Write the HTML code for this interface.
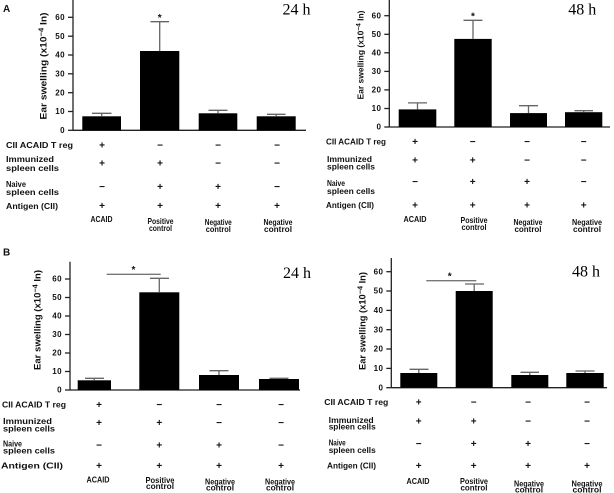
<!DOCTYPE html>
<html><head><meta charset="utf-8"><style>
html,body{margin:0;padding:0;background:#fff;}
svg{display:block;}
.t{font-family:"Liberation Sans",Arial,sans-serif;font-weight:bold;fill:#111;}
.tk{font-family:"Liberation Sans",Arial,sans-serif;font-weight:bold;font-size:8px;letter-spacing:0.4px;fill:#111;text-anchor:end;}
.s{font-family:"Liberation Sans",Arial,sans-serif;font-weight:bold;font-size:10px;fill:#111;text-anchor:middle;}
.b{font-family:"Liberation Sans",Arial,sans-serif;font-weight:bold;font-size:8.2px;fill:#111;text-anchor:middle;}
.h{font-family:"Liberation Serif","Times New Roman",serif;font-size:16px;fill:#000;}
.ax{stroke:#222;stroke-width:1.3;fill:none;}
.eb{stroke:#666;stroke-width:1.3;fill:none;}
</style></head><body>
<svg width="614" height="493" viewBox="0 0 614 493" xmlns="http://www.w3.org/2000/svg">
<!-- Panel letters -->
<text class="t" x="3" y="12" font-size="10">A</text>
<text class="t" x="3" y="255.5" font-size="10">B</text>

<!-- ===== A left ===== -->
<text class="h" x="282.5" y="14.5">24 h</text>
<text class="t" font-size="9.5" text-anchor="middle" textLength="107" lengthAdjust="spacingAndGlyphs" transform="translate(46.5,66) rotate(-90)">Ear swelling (x10<tspan font-size="7" dy="-3">−4</tspan><tspan dy="3"> In)</tspan></text>
<line class="ax" x1="73" y1="0" x2="73" y2="130.3"/>
<line class="ax" x1="73" y1="130.3" x2="306" y2="130.3"/>
<g class="ax">
<line x1="68" y1="130.3" x2="73" y2="130.3"/><line x1="68" y1="111.5" x2="73" y2="111.5"/><line x1="68" y1="92.7" x2="73" y2="92.7"/><line x1="68" y1="73.8" x2="73" y2="73.8"/><line x1="68" y1="55" x2="73" y2="55"/><line x1="68" y1="36.2" x2="73" y2="36.2"/><line x1="68" y1="17.3" x2="73" y2="17.3"/>
</g>
<text class="tk" x="65" y="133">0</text><text class="tk" x="65" y="114.2">10</text><text class="tk" x="65" y="95.4">20</text><text class="tk" x="65" y="76.5">30</text><text class="tk" x="65" y="57.7">40</text><text class="tk" x="65" y="38.9">50</text><text class="tk" x="65" y="20">60</text>
<rect x="82.3" y="116.3" width="38.7" height="14" fill="#000"/>
<rect x="140" y="51" width="39.3" height="79.3" fill="#000"/>
<rect x="198.7" y="113.3" width="38.6" height="17" fill="#000"/>
<rect x="256.7" y="116.3" width="39" height="14" fill="#000"/>
<path class="eb" d="M101.7 116.3V113.3M92 113.3H111.5 M159.7 51V21.7M150.5 21.7H169 M218 113.3V110.3M208.5 110.3H227.5 M276.2 116.3V114.3M267 114.3H285.5"/>
<text class="s" x="159.7" y="21">*</text>
<!-- table A left -->
<text class="t" font-size="8.5" x="6" y="148" textLength="67" lengthAdjust="spacingAndGlyphs">CII ACAID T reg</text>
<text class="t" font-size="8.5" x="6" y="162" textLength="48" lengthAdjust="spacingAndGlyphs">Immunized</text>
<text class="t" font-size="8.5" x="6" y="171" textLength="53" lengthAdjust="spacingAndGlyphs">spleen cells</text>
<text class="t" font-size="8.5" x="6" y="187" textLength="20" lengthAdjust="spacingAndGlyphs">Naive</text>
<text class="t" font-size="8.5" x="6" y="195" textLength="53" lengthAdjust="spacingAndGlyphs">spleen cells</text>
<text class="t" font-size="8.5" x="6" y="209" textLength="52" lengthAdjust="spacingAndGlyphs">Antigen (CII)</text>
<g>
<text class="s" x="102" y="148.5">+</text><text class="s" x="160" y="148.5">−</text><text class="s" x="218" y="148.5">−</text><text class="s" x="277" y="148.5">−</text>
<text class="s" x="102" y="166.5">+</text><text class="s" x="160" y="166.5">+</text><text class="s" x="218" y="166.5">−</text><text class="s" x="277" y="166.5">−</text>
<text class="s" x="102" y="190">−</text><text class="s" x="160" y="190">+</text><text class="s" x="218" y="190">+</text><text class="s" x="277" y="190">−</text>
<text class="s" x="102" y="209">+</text><text class="s" x="160" y="209">+</text><text class="s" x="218" y="209">+</text><text class="s" x="277" y="209">+</text>
</g>
<text class="b" x="101.5" y="222" textLength="22" lengthAdjust="spacingAndGlyphs">ACAID</text>
<text class="b" x="160.5" y="224" textLength="26" lengthAdjust="spacingAndGlyphs">Positive</text>
<text class="b" x="160.5" y="231" textLength="23" lengthAdjust="spacingAndGlyphs">control</text>
<text class="b" x="218.3" y="225" textLength="27" lengthAdjust="spacingAndGlyphs">Negative</text>
<text class="b" x="218.3" y="232" textLength="25" lengthAdjust="spacingAndGlyphs">control</text>
<text class="b" x="278" y="225" textLength="29" lengthAdjust="spacingAndGlyphs">Negative</text>
<text class="b" x="278" y="232" textLength="28" lengthAdjust="spacingAndGlyphs">control</text>

<!-- ===== A right ===== -->
<text class="h" x="568.3" y="14.7">48 h</text>
<text class="t" font-size="8.5" text-anchor="middle" textLength="89" lengthAdjust="spacingAndGlyphs" transform="translate(363.7,55) rotate(-90)">Ear swelling (x10<tspan font-size="6.5" dy="-3">−4</tspan><tspan dy="3"> In)</tspan></text>
<line class="ax" x1="389.3" y1="0" x2="389.3" y2="127"/>
<line class="ax" x1="389.3" y1="127" x2="610" y2="127"/>
<g class="ax">
<line x1="384.3" y1="127" x2="389.3" y2="127"/><line x1="384.3" y1="108.5" x2="389.3" y2="108.5"/><line x1="384.3" y1="89.9" x2="389.3" y2="89.9"/><line x1="384.3" y1="71.4" x2="389.3" y2="71.4"/><line x1="384.3" y1="52.8" x2="389.3" y2="52.8"/><line x1="384.3" y1="34.3" x2="389.3" y2="34.3"/><line x1="384.3" y1="15.7" x2="389.3" y2="15.7"/>
</g>
<text class="tk" x="381.3" y="129.7">0</text><text class="tk" x="381.3" y="111.2">10</text><text class="tk" x="381.3" y="92.6">20</text><text class="tk" x="381.3" y="74.1">30</text><text class="tk" x="381.3" y="55.5">40</text><text class="tk" x="381.3" y="37">50</text><text class="tk" x="381.3" y="18.4">60</text>
<rect x="398.7" y="109.4" width="37.6" height="17.6" fill="#000"/>
<rect x="454.3" y="38.9" width="37.4" height="88.1" fill="#000"/>
<rect x="510" y="113.1" width="37" height="13.9" fill="#000"/>
<rect x="565" y="112.2" width="37.3" height="14.8" fill="#000"/>
<path class="eb" d="M417.5 109.4V102.9M408 102.9H427 M473 38.9V20.3M463.5 20.3H482.5 M528.5 113.1V105.7M519 105.7H538 M583.7 112.2V110.7M574.5 110.7H593"/>
<text class="s" x="473" y="19.5">*</text>
<!-- table A right -->
<text class="t" font-size="8.5" x="326" y="144.7" textLength="60" lengthAdjust="spacingAndGlyphs">CII ACAID T reg</text>
<text class="t" font-size="8.5" x="327" y="162" textLength="45" lengthAdjust="spacingAndGlyphs">Immunized</text>
<text class="t" font-size="8.5" x="327" y="169.7" textLength="48" lengthAdjust="spacingAndGlyphs">spleen cells</text>
<text class="t" font-size="8.5" x="327" y="186" textLength="18" lengthAdjust="spacingAndGlyphs">Naive</text>
<text class="t" font-size="8.5" x="327" y="194" textLength="48" lengthAdjust="spacingAndGlyphs">spleen cells</text>
<text class="t" font-size="8.5" x="326" y="208" textLength="48" lengthAdjust="spacingAndGlyphs">Antigen (CII)</text>
<g>
<text class="s" x="415" y="145.2">+</text><text class="s" x="472.7" y="145.2">−</text><text class="s" x="527" y="145.2">−</text><text class="s" x="583.7" y="145.2">−</text>
<text class="s" x="415" y="163.5">+</text><text class="s" x="472.7" y="163.5">+</text><text class="s" x="527" y="163.5">−</text><text class="s" x="583.7" y="163.5">−</text>
<text class="s" x="415" y="185.2">−</text><text class="s" x="472.7" y="185.2">+</text><text class="s" x="527" y="185.2">+</text><text class="s" x="583.7" y="185.2">−</text>
<text class="s" x="415" y="208.5">+</text><text class="s" x="472.7" y="208.5">+</text><text class="s" x="527" y="208.5">+</text><text class="s" x="583.7" y="208.5">+</text>
</g>
<text class="b" x="415" y="222" textLength="23" lengthAdjust="spacingAndGlyphs">ACAID</text>
<text class="b" x="474" y="223" textLength="27" lengthAdjust="spacingAndGlyphs">Positive</text>
<text class="b" x="474" y="230" textLength="25" lengthAdjust="spacingAndGlyphs">control</text>
<text class="b" x="528" y="225" textLength="29" lengthAdjust="spacingAndGlyphs">Negative</text>
<text class="b" x="528" y="232" textLength="27" lengthAdjust="spacingAndGlyphs">control</text>
<text class="b" x="587" y="225" textLength="30" lengthAdjust="spacingAndGlyphs">Negative</text>
<text class="b" x="587" y="232" textLength="28" lengthAdjust="spacingAndGlyphs">control</text>

<!-- ===== B left ===== -->
<text class="h" x="283" y="278">24 h</text>
<text class="t" font-size="9.2" text-anchor="middle" textLength="100" lengthAdjust="spacingAndGlyphs" transform="translate(40.5,320) rotate(-90)">Ear swelling (x10<tspan font-size="7" dy="-3">−4</tspan><tspan dy="3"> In)</tspan></text>
<line class="ax" x1="70" y1="261.7" x2="70" y2="390"/>
<line class="ax" x1="70" y1="390" x2="300" y2="390"/>
<g class="ax">
<line x1="65" y1="390" x2="70" y2="390"/><line x1="65" y1="371.5" x2="70" y2="371.5"/><line x1="65" y1="353" x2="70" y2="353"/><line x1="65" y1="334.5" x2="70" y2="334.5"/><line x1="65" y1="316" x2="70" y2="316"/><line x1="65" y1="297.5" x2="70" y2="297.5"/><line x1="65" y1="279" x2="70" y2="279"/>
</g>
<text class="tk" x="62" y="392.7">0</text><text class="tk" x="62" y="374.2">10</text><text class="tk" x="62" y="355.7">20</text><text class="tk" x="62" y="337.2">30</text><text class="tk" x="62" y="318.7">40</text><text class="tk" x="62" y="300.2">50</text><text class="tk" x="62" y="281.7">60</text>
<rect x="77.7" y="380.3" width="33.3" height="9.7" fill="#000"/>
<rect x="139.3" y="292.3" width="40" height="97.7" fill="#000"/>
<rect x="199" y="375" width="40" height="15" fill="#000"/>
<rect x="259" y="379" width="40" height="11" fill="#000"/>
<path class="eb" d="M94.3 380.3V378.3M85 378.3H104 M159.3 292.3V278.3M150 278.3H169 M219 375V370.7M209.5 370.7H228.5 M279 379V378.3M269.5 378.3H288.5"/>
<line x1="106.7" y1="274.3" x2="160.7" y2="274.3" stroke="#777" stroke-width="1.3"/>
<text class="s" x="133.5" y="273">*</text>
<!-- table B left -->
<text class="t" font-size="8.5" x="2" y="407.3" textLength="64" lengthAdjust="spacingAndGlyphs">CII ACAID T reg</text>
<text class="t" font-size="8.5" x="3" y="424" textLength="49" lengthAdjust="spacingAndGlyphs">Immunized</text>
<text class="t" font-size="8.5" x="3" y="431.3" textLength="52" lengthAdjust="spacingAndGlyphs">spleen cells</text>
<text class="t" font-size="8.5" x="3" y="446.3" textLength="19" lengthAdjust="spacingAndGlyphs">Naive</text>
<text class="t" font-size="8.5" x="3" y="453.7" textLength="52" lengthAdjust="spacingAndGlyphs">spleen cells</text>
<text class="t" font-size="8.5" x="1" y="468.3" textLength="62" lengthAdjust="spacingAndGlyphs">Antigen (CII)</text>
<g>
<text class="s" x="99" y="407.8">+</text><text class="s" x="159.3" y="407.8">−</text><text class="s" x="219" y="407.8">−</text><text class="s" x="281" y="407.8">−</text>
<text class="s" x="99" y="425.8">+</text><text class="s" x="159.3" y="425.8">+</text><text class="s" x="219" y="425.8">−</text><text class="s" x="281" y="425.8">−</text>
<text class="s" x="99" y="448.5">−</text><text class="s" x="159.3" y="448.5">+</text><text class="s" x="219" y="448.5">+</text><text class="s" x="281" y="448.5">−</text>
<text class="s" x="99" y="468.8">+</text><text class="s" x="159.3" y="468.8">+</text><text class="s" x="219" y="468.8">+</text><text class="s" x="281" y="468.8">+</text>
</g>
<text class="b" x="98" y="482.3" textLength="23" lengthAdjust="spacingAndGlyphs">ACAID</text>
<text class="b" x="160" y="483" textLength="29" lengthAdjust="spacingAndGlyphs">Positive</text>
<text class="b" x="160" y="489" textLength="28" lengthAdjust="spacingAndGlyphs">control</text>
<text class="b" x="220" y="484.6" textLength="30" lengthAdjust="spacingAndGlyphs">Negative</text>
<text class="b" x="220" y="490.6" textLength="28" lengthAdjust="spacingAndGlyphs">control</text>
<text class="b" x="280" y="484.6" textLength="30" lengthAdjust="spacingAndGlyphs">Negative</text>
<text class="b" x="280" y="490.6" textLength="28" lengthAdjust="spacingAndGlyphs">control</text>

<!-- ===== B right ===== -->
<text class="h" x="572" y="276.7">48 h</text>
<text class="t" font-size="9" text-anchor="middle" textLength="98" lengthAdjust="spacingAndGlyphs" transform="translate(365.5,321) rotate(-90)">Ear swelling (x10<tspan font-size="7" dy="-3">−4</tspan><tspan dy="3"> In)</tspan></text>
<line class="ax" x1="391.3" y1="258" x2="391.3" y2="387.7"/>
<line class="ax" x1="391.3" y1="387.7" x2="607" y2="387.7"/>
<g class="ax">
<line x1="386.3" y1="387.7" x2="391.3" y2="387.7"/><line x1="386.3" y1="368.4" x2="391.3" y2="368.4"/><line x1="386.3" y1="349" x2="391.3" y2="349"/><line x1="386.3" y1="329.7" x2="391.3" y2="329.7"/><line x1="386.3" y1="310.4" x2="391.3" y2="310.4"/><line x1="386.3" y1="291" x2="391.3" y2="291"/><line x1="386.3" y1="271.7" x2="391.3" y2="271.7"/>
</g>
<text class="tk" x="383.3" y="390.4">0</text><text class="tk" x="383.3" y="371.1">10</text><text class="tk" x="383.3" y="351.7">20</text><text class="tk" x="383.3" y="332.4">30</text><text class="tk" x="383.3" y="313.1">40</text><text class="tk" x="383.3" y="293.7">50</text><text class="tk" x="383.3" y="274.4">60</text>
<rect x="400.3" y="373" width="37" height="14.7" fill="#000"/>
<rect x="455.7" y="291" width="37" height="96.7" fill="#000"/>
<rect x="511.3" y="375" width="37" height="12.7" fill="#000"/>
<rect x="566.3" y="373" width="37.4" height="14.7" fill="#000"/>
<path class="eb" d="M418.8 373V369.3M409.5 369.3H428.5 M474.2 291V284M465 284H484 M529.8 375V372.3M520.5 372.3H539 M585 373V371M575.5 371H594.5"/>
<line x1="426.3" y1="280.7" x2="476.3" y2="280.7" stroke="#777" stroke-width="1.3"/>
<text class="s" x="449.7" y="279.5">*</text>
<!-- table B right -->
<text class="t" font-size="8.5" x="324.3" y="405" textLength="64" lengthAdjust="spacingAndGlyphs">CII ACAID T reg</text>
<text class="t" font-size="8.5" x="328.7" y="423" textLength="45" lengthAdjust="spacingAndGlyphs">Immunized</text>
<text class="t" font-size="8.5" x="328.7" y="429.7" textLength="47" lengthAdjust="spacingAndGlyphs">spleen cells</text>
<text class="t" font-size="8.5" x="328.7" y="445.7" textLength="17" lengthAdjust="spacingAndGlyphs">Naive</text>
<text class="t" font-size="8.5" x="328.7" y="453" textLength="47" lengthAdjust="spacingAndGlyphs">spleen cells</text>
<text class="t" font-size="8.5" x="327" y="468.3" textLength="49" lengthAdjust="spacingAndGlyphs">Antigen (CII)</text>
<g>
<text class="s" x="418.7" y="405.5">+</text><text class="s" x="473.7" y="405.5">−</text><text class="s" x="528" y="405.5">−</text><text class="s" x="587" y="405.5">−</text>
<text class="s" x="418.7" y="424.5">+</text><text class="s" x="473.7" y="424.5">+</text><text class="s" x="528" y="424.5">−</text><text class="s" x="587" y="424.5">−</text>
<text class="s" x="418.7" y="446.8">−</text><text class="s" x="473.7" y="446.8">+</text><text class="s" x="528" y="446.8">+</text><text class="s" x="587" y="446.8">−</text>
<text class="s" x="418.7" y="468.8">+</text><text class="s" x="473.7" y="468.8">+</text><text class="s" x="528" y="468.8">+</text><text class="s" x="587" y="468.8">+</text>
</g>
<text class="b" x="418" y="484" textLength="23" lengthAdjust="spacingAndGlyphs">ACAID</text>
<text class="b" x="474" y="484" textLength="28" lengthAdjust="spacingAndGlyphs">Positive</text>
<text class="b" x="474" y="490.3" textLength="27" lengthAdjust="spacingAndGlyphs">control</text>
<text class="b" x="529" y="486.3" textLength="30" lengthAdjust="spacingAndGlyphs">Negative</text>
<text class="b" x="529" y="492.3" textLength="28" lengthAdjust="spacingAndGlyphs">control</text>
<text class="b" x="587" y="486.3" textLength="31" lengthAdjust="spacingAndGlyphs">Negative</text>
<text class="b" x="587" y="492.3" textLength="29" lengthAdjust="spacingAndGlyphs">control</text>
</svg>
</body></html>
